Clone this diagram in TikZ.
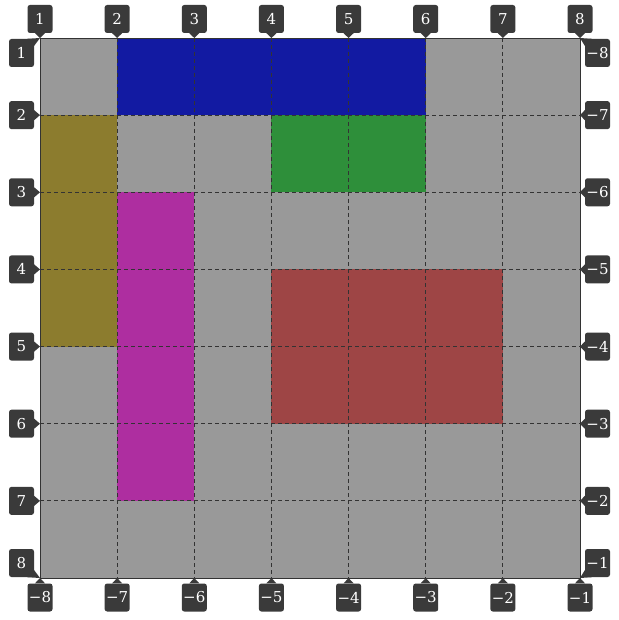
\documentclass[tikz,border=0pt]{standalone}
\usepackage{fontspec}
\newfontfamily\tipfont{DejaVu Serif}
\usepackage{tikz}
\usetikzlibrary{positioning, calc}
\definecolor{cellgray}{HTML}{999999}
\definecolor{tipcol}{HTML}{3A3A3A}
\definecolor{gridcol}{HTML}{333333}
\definecolor{bluecol}{HTML}{121AA2}
\definecolor{olivecol}{HTML}{8C7C2E}
\definecolor{greencol}{HTML}{2E8F3A}
\definecolor{magcol}{HTML}{AE2EA0}
\definecolor{redcol}{HTML}{9E4545}

\begin{document}
\begin{tikzpicture}[x=1pt, y=-1pt,
  tip/.style={fill=tipcol, text=white, rounded corners=2.5pt, minimum width=25pt,
              minimum height=28pt, inner sep=0pt, font=\tipfont\fontsize{15}{15}\selectfont},
  gridline/.style={gridcol, line width=1.2pt, dash pattern=on 4pt off 3pt},
  ptr/.style={fill=tipcol}
]
\useasboundingbox (0,0) rectangle (618,620);
\begin{scope}[shift={(40,38)}, x=77.142857pt, y=-77.142857pt]
  \fill[cellgray] (0,0) rectangle (7,7);
  \fill[bluecol]  (1,0) rectangle (5,1);
  \fill[olivecol] (0,1) rectangle (1,4);
  \fill[greencol] (3,1) rectangle (5,2);
  \fill[magcol]   (1,2) rectangle (2,6);
  \fill[redcol]   (3,3) rectangle (6,5);
  \foreach \k in {1,...,6} {
    \draw[gridline] (\k,0) -- (\k,7);
    \draw[gridline] (0,\k) -- (7,\k);
  }
  \draw[gridcol, line width=0.9pt] (0,0) rectangle (7,7);
  \foreach \i [evaluate=\i as \k using int(\i-1)] in {1,...,8} {
    \coordinate (n\i) at (\k,0);
    \coordinate (s\i) at (\k,7);
    \coordinate (w\i) at (0,\k);
    \coordinate (e\i) at (7,\k);
  }
\end{scope}

\foreach \i [evaluate=\i as \m using int(9-\i)] in {1,...,8} {
  \node[tip] (t\i) at ($(n\i)+(0,-19)$) {\i};
  \fill[ptr] ($(t\i.south)+(-5,0)$) -- (n\i) -- ($(t\i.south)+(5,0)$) -- cycle;
  \node[tip] (b\i) at ($(s\i)+(0,19.5)$) {−\m};
  \fill[ptr] ($(b\i.north)+(-5,0)$) -- (s\i) -- ($(b\i.north)+(5,0)$) -- cycle;
}
\foreach \i [evaluate=\i as \m using int(9-\i)] in {2,...,7} {
  \node[tip] (l\i) at ($(w\i)+(-18.5,0)$) {\i};
  \fill[ptr] ($(l\i.east)+(0,-5)$) -- (w\i) -- ($(l\i.east)+(0,5)$) -- cycle;
  \node[tip] (r\i) at ($(e\i)+(17.5,0)$) {−\m};
  \fill[ptr] ($(r\i.west)+(0,-5)$) -- (e\i) -- ($(r\i.west)+(0,5)$) -- cycle;
}
\node[tip] (l1) at ($(w1)+(-18.5,15)$) {1};
\fill[ptr] ($(l1.north east)+(-7,0)$) -- (w1) -- ($(l1.north east)+(0,7)$) -- cycle;
\node[tip] (l8) at ($(w8)+(-18.5,-15)$) {8};
\fill[ptr] ($(l8.south east)+(-7,0)$) -- (w8) -- ($(l8.south east)+(0,-7)$) -- cycle;
\node[tip] (r1) at ($(e1)+(17.5,15)$) {−8};
\fill[ptr] ($(r1.north west)+(7,0)$) -- (e1) -- ($(r1.north west)+(0,7)$) -- cycle;
\node[tip] (r8) at ($(e8)+(17.5,-15)$) {−1};
\fill[ptr] ($(r8.south west)+(7,0)$) -- (e8) -- ($(r8.south west)+(0,-7)$) -- cycle;
\end{tikzpicture}
\end{document}
